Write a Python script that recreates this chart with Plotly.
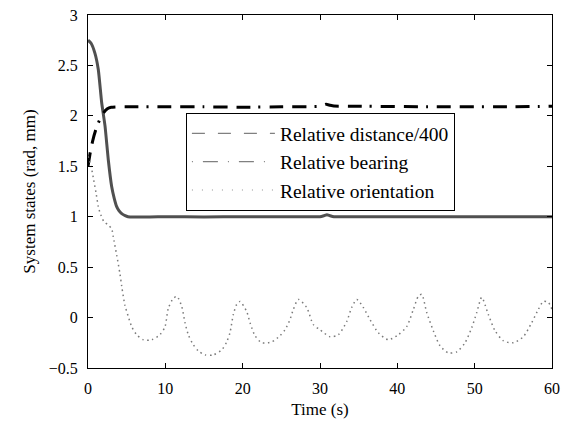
import plotly.graph_objects as go

# Relative distance / 400 (solid grey)
t_dist = [0, 0.4, 0.9, 1.33, 1.77, 2.2, 2.63, 3.06, 3.4, 3.71, 4.0, 4.36, 4.8, 5.17, 6, 8, 10, 15, 20, 25, 29,
          30.0, 30.5, 30.9, 31.3, 31.8, 33, 40, 50, 60]
y_dist = [2.75, 2.72, 2.62, 2.46, 2.13, 1.90, 1.56, 1.30, 1.18, 1.10, 1.06, 1.03, 1.01, 1.00, 0.997, 0.997, 1.0, 0.998,
          1.0, 1.0, 1.0, 1.0, 1.01, 1.02, 1.01, 1.0, 1.0, 1.0, 1.0, 1.0]

# Relative bearing (black dash-dot)
t_bear = [0, 0.3, 0.6, 1.0, 1.5, 2.0, 2.5, 3, 4, 5, 10, 15, 20, 25, 30, 30.4, 30.8, 31.3, 31.8, 35, 45, 55, 60]
y_bear = [1.50, 1.64, 1.75, 1.86, 1.96, 2.03, 2.07, 2.085, 2.09, 2.09, 2.09, 2.09, 2.085, 2.09, 2.095, 2.105,
          2.115, 2.105, 2.097, 2.095, 2.09, 2.09, 2.095]

# Relative orientation (grey dotted)
t_ori = [0, 0.4, 0.7, 1.03, 1.33, 1.55, 2.07, 2.6, 3.06, 3.27, 3.71, 4.14, 4.36, 4.78, 5.21, 5.65, 6.30, 7.15, 8.24,
         9.31, 9.96, 10.38, 11.03, 11.5, 12.12, 12.54, 12.97, 13.62, 14.26, 15.13, 16.20, 17.29, 17.94, 18.36,
         18.79, 19.23, 19.66, 20.52, 20.95, 21.60, 22.46, 23.76, 24.83, 25.48, 26.12, 26.55, 27.20, 28.28,
         29.14, 30.0, 31.29, 32.37, 33.45, 34.10, 34.75, 35.60, 36.47, 37.54, 38.83, 40.13, 41.21, 42.07,
         42.71, 43.15, 43.80, 44.65, 45.52, 46.59, 47.68, 48.75, 49.62, 50.27, 50.91, 51.77, 52.63, 53.71,
         55.0, 56.29, 57.38, 58.23, 58.88, 59.53, 60]
y_ori = [1.60, 1.50, 1.38, 1.24, 1.10, 1.04, 0.95, 0.92, 0.88, 0.80, 0.62, 0.43, 0.31, 0.12, 0.01, -0.09, -0.17, -0.22, -0.22,
         -0.17, -0.09, 0.09, 0.19, 0.21, 0.11, -0.05, -0.17, -0.27, -0.33, -0.37, -0.37, -0.32, -0.24, -0.15,
         0.03, 0.13, 0.16, 0.06, -0.05, -0.18, -0.25, -0.24, -0.18, -0.12, -0.02, 0.08, 0.18, 0.10,
         -0.07, -0.12, -0.19, -0.17, -0.04, 0.10, 0.18, 0.10, -0.02, -0.15, -0.22, -0.17, -0.09, 0.08,
         0.21, 0.23, 0.05, -0.13, -0.28, -0.35, -0.34, -0.25, -0.10, 0.05, 0.20, 0.03, -0.13, -0.23,
         -0.25, -0.19, -0.05, 0.08, 0.16, 0.15, 0.08]

legend_names = ["Relative distance/400", "Relative bearing", "Relative orientation"]
x_ticks = [0, 10, 20, 30, 40, 50, 60]
y_ticks = [-0.5, 0, 0.5, 1, 1.5, 2, 2.5, 3]

FONT = "'Liberation Serif', 'Times New Roman', Times, serif"

fig = go.Figure()
fig.add_trace(go.Scatter(x=t_dist, y=y_dist, mode="lines", showlegend=False,
                         line=dict(color="#505050", width=3, shape="spline", smoothing=0.5)))
fig.add_trace(go.Scatter(x=t_bear, y=y_bear, mode="lines", showlegend=False,
                         line=dict(color="black", width=3, shape="spline", smoothing=0.5,
                                   dash="14px,9px,14px,8px,2px,9px")))
fig.add_trace(go.Scatter(x=t_ori, y=y_ori, mode="lines", showlegend=False,
                         line=dict(color="#7a7a7a", width=1.5, shape="spline", smoothing=0.7,
                                   dash="1.5px,3.5px")))

# legend-only entries (styles as shown in the reference legend)
leg_styles = [dict(color="#808080", width=1.2, dash="13px,13px"),
              dict(color="#808080", width=1.2, dash="1px,10px,15px,10px"),
              dict(color="#909090", width=1.2, dash="1px,9px")]
for name, st in zip(legend_names, leg_styles):
    fig.add_trace(go.Scatter(x=[None], y=[None], mode="lines", name=name, line=st))

fig.update_layout(
    width=580, height=422,
    margin=dict(l=88, r=28, t=15, b=54, autoexpand=False),
    paper_bgcolor="white", plot_bgcolor="white",
    font=dict(family=FONT, size=16, color="black"),
    legend=dict(x=0.211, y=0.722, xanchor="left", yanchor="top",
                bgcolor="white", bordercolor="black", borderwidth=1,
                font=dict(family=FONT, size=19.5, color="black"),
                itemwidth=83, tracegroupgap=0, entrywidth=280, entrywidthmode="pixels"),
    xaxis=dict(range=[0, 60], tickvals=x_ticks, ticks="inside", ticklen=5, tickcolor="black",
               showline=True, linecolor="black", linewidth=1, mirror="ticks", showgrid=False,
               zeroline=False, ticklabelstandoff=6, automargin=False,
               tickfont=dict(family=FONT, size=16),
               title=dict(text="Time (s)", font=dict(family=FONT, size=17), standoff=6)),
    yaxis=dict(range=[-0.5, 3], tickvals=y_ticks, ticks="inside", ticklen=5, tickcolor="black",
               showline=True, linecolor="black", linewidth=1, mirror="ticks", showgrid=False,
               zeroline=False, ticklabelstandoff=6, automargin=False,
               tickfont=dict(family=FONT, size=16),
               title=dict(text="System states (rad, mm)", font=dict(family=FONT, size=17), standoff=8)),
)

fig.write_html("out.html", config={"displayModeBar": False},
               post_script="document.body.style.margin='0';")
